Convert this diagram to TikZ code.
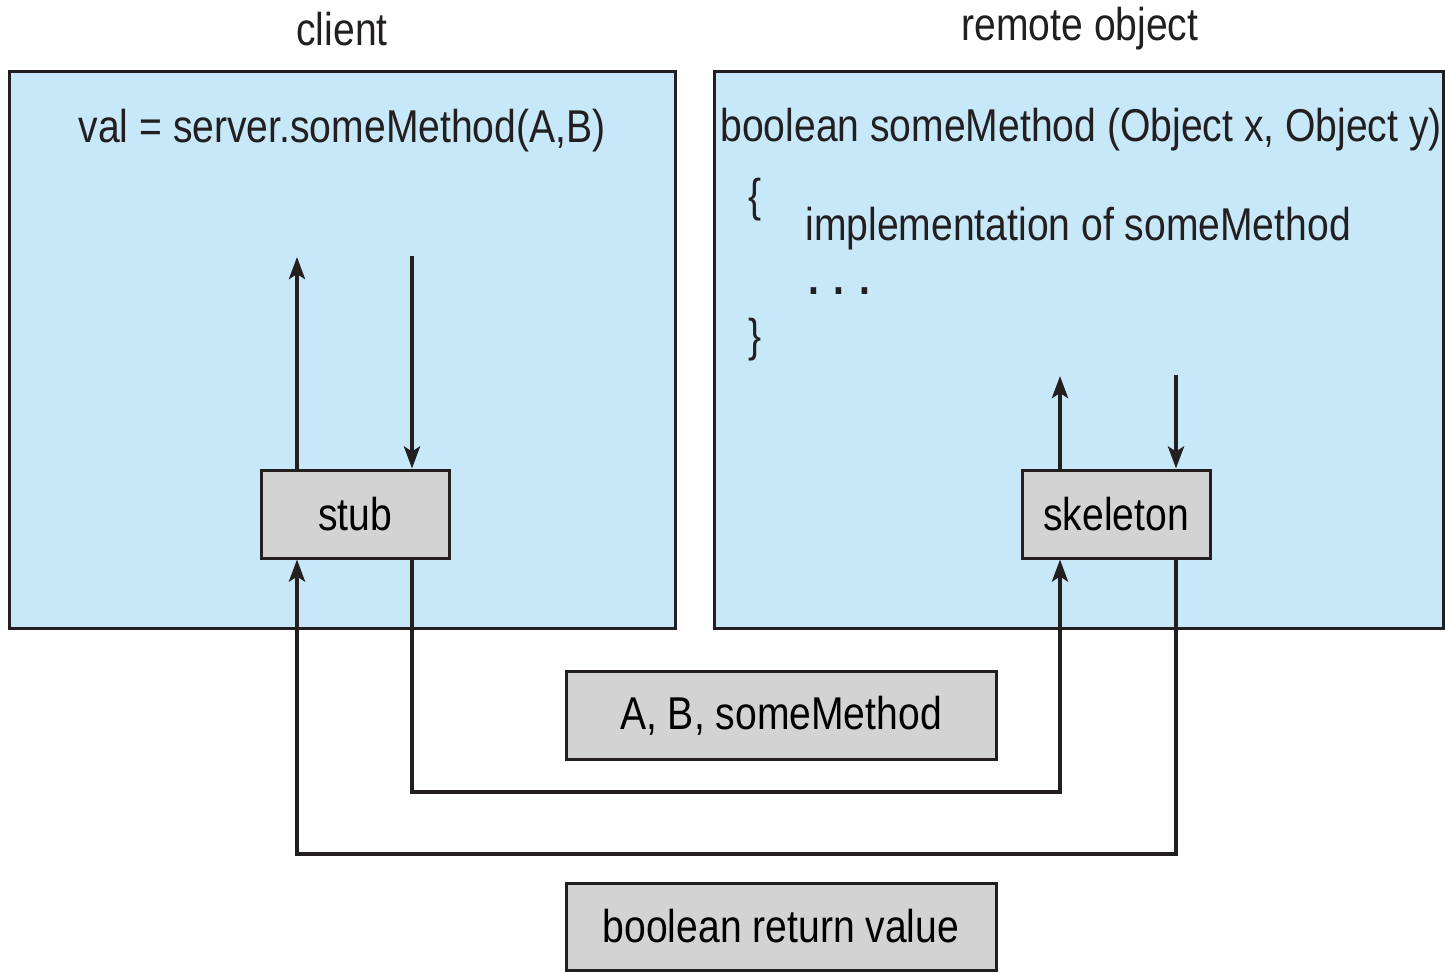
\documentclass[tikz,border=0pt]{standalone}
\usepackage{fontspec}
\setmainfont{Liberation Sans}[FakeStretch=0.85]
\usepackage{xcolor}
\usepackage{tikz}
\usetikzlibrary{arrows.meta}

\definecolor{panelblue}{RGB}{198,232,249}
\definecolor{boxgray}{RGB}{211,211,211}
\definecolor{ink}{RGB}{35,31,32}

\begin{document}
\begin{tikzpicture}[x=0.5pt,y=-0.5pt,
		font=\fontsize{23}{27}\selectfont,
		panel/.style={draw=ink,line width=1.5pt,fill=panelblue,minimum width=333pt,minimum height=278pt},
		gbox/.style={draw=ink,line width=1.5pt,fill=boxgray,minimum height=44pt},
		flow/.style={draw=ink,line width=2pt,-{Stealth[length=11pt,width=8pt,inset=2.5pt]}},
		txt/.style={text=ink,inner sep=0pt}]
		\useasboundingbox (0,0) rectangle (1445,973);
		% Titles
		\node[txt] (clienttitle) at (342,29) {client};
		\node[txt] (remotetitle) at (1080,29) {remote object};
		% Panels
		\node[panel] (client) at (342,350) {};
		\node[panel,minimum width=364.5pt] (remote) at (1078.5,350) {};
		% Client code
		\node[txt] (call) at (342,131) {val = server.someMethod(A,B)};
		% Remote code
		\node[txt,anchor=west] (sig) at (720,130) {boolean someMethod (Object x, Object y)};
		\node[txt] (openb) at (755,200) {\{};
		\node[txt,anchor=west] (impl) at (805,229) {implementation of someMethod};
		\node[txt,anchor=base west] (dots) at (808,294) {\bfseries . . .};
		\node[txt] (closeb) at (755,340) {\}};
		% Stub and skeleton
		\node[gbox,minimum width=94pt] (stub) at (355,514) {stub};
		\node[gbox,minimum width=94pt] (skeleton) at (1116,514) {skeleton};
		% Messages
		\node[gbox,minimum width=215pt] (args) at (781,715.5) {A, B, someMethod};
		\node[gbox,minimum width=215pt,minimum height=43.5pt] (retval) at (781,926.5) {boolean return value};
		% Arrows inside the panels
		\coordinate (stubout) at (297,257);
		\coordinate (stubin) at (412,256);
		\coordinate (skelout) at (1060,376);
		\coordinate (skelin) at (1176,375);
		\draw[flow] ([xshift=-29pt]stub.north) -- (stubout);
		\draw[flow] (stubin) -- ([xshift=28.5pt]stub.north);
		\draw[flow] ([xshift=-28pt]skeleton.north) -- (skelout);
		\draw[flow] (skelin) -- ([xshift=30pt]skeleton.north);
		% Call and return
		\draw[flow] ([xshift=28.5pt]stub.south) -- ++(0,232) -| ([xshift=-28pt]skeleton.south);
		\draw[flow] ([xshift=30pt]skeleton.south) -- ++(0,294) -| ([xshift=-29pt]stub.south);
	\end{tikzpicture}
\end{document}
